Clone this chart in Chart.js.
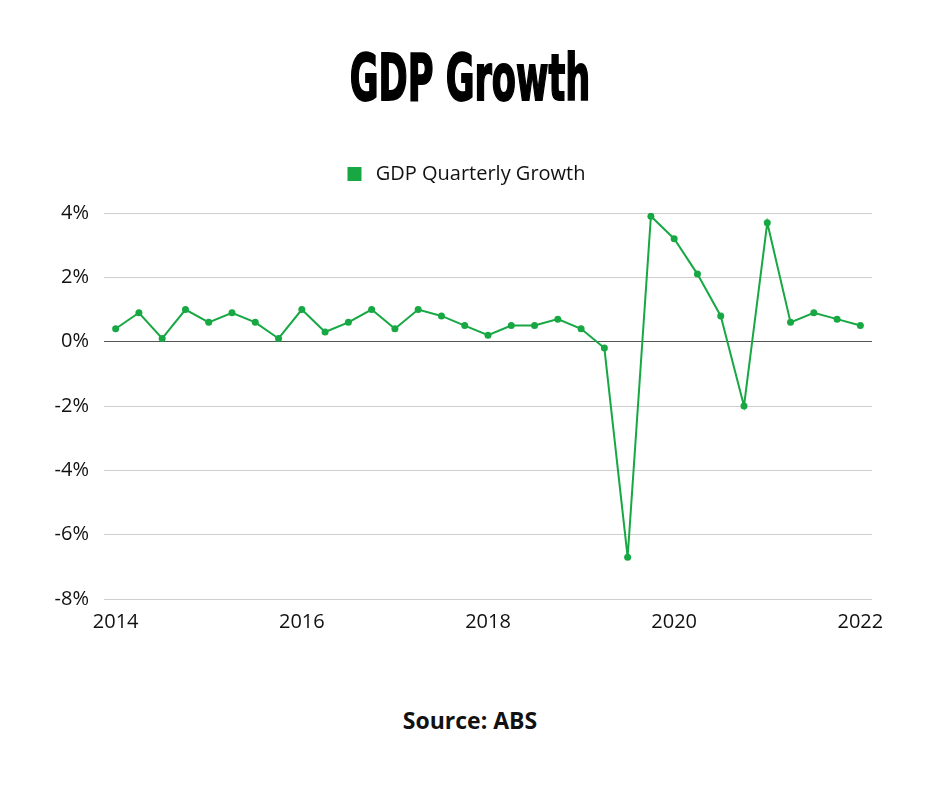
<!DOCTYPE html>
<html>
<head>
<meta charset="utf-8">
<script src="https://cdn.jsdelivr.net/npm/chart.js@4.4.1/dist/chart.umd.min.js"></script>
<style>
  html, body { margin: 0; padding: 0; background: #fff; }
  body { width: 940px; height: 788px; position: relative; overflow: hidden; font-family: "Open Sans", sans-serif; }
  #titulo {
    position: absolute; left: 0; top: 38px; width: 940px; text-align: center;
    font-family: "DejaVu Sans Condensed", "Liberation Sans Narrow", sans-serif;
    font-weight: bold; font-size: 64px; line-height: 80px; color: #000;
    -webkit-text-stroke: 1.8px #000;
    transform: scaleX(0.61); transform-origin: 470px 0;
  }
  #grafico { position: absolute; left: 0; top: 150px; width: 900px; height: 487px; }
  #fuente {
    position: absolute; left: 0; top: 704px; width: 940px; text-align: center;
    font-family: "Open Sans", sans-serif; font-weight: bold; font-size: 23px; color: #111;
  }
</style>
</head>
<body>
<div id="titulo">GDP Growth</div>
<div id="grafico"><canvas id="grafPIB"></canvas></div>
<div id="fuente">Source: ABS</div>
<script>
// Trimestres de 2014 a 2022 (primer trimestre de cada año marcado en el eje)
const trimestres = [
  '2014 Q1', '2014 Q2', '2014 Q3', '2014 Q4',
  '2015 Q1', '2015 Q2', '2015 Q3', '2015 Q4',
  '2016 Q1', '2016 Q2', '2016 Q3', '2016 Q4',
  '2017 Q1', '2017 Q2', '2017 Q3', '2017 Q4',
  '2018 Q1', '2018 Q2', '2018 Q3', '2018 Q4',
  '2019 Q1', '2019 Q2', '2019 Q3', '2019 Q4',
  '2020 Q1', '2020 Q2', '2020 Q3', '2020 Q4',
  '2021 Q1', '2021 Q2', '2021 Q3', '2021 Q4',
  '2022 Q1'
];
const crecimientoPIB = [
  0.4, 0.9, 0.1, 1.0,
  0.6, 0.9, 0.6, 0.1,
  1.0, 0.3, 0.6, 1.0,
  0.4, 1.0, 0.8, 0.5,
  0.2, 0.5, 0.5, 0.7,
  0.4, -0.2, -6.7, 3.9,
  3.2, 2.1, 0.8, -2.0,
  3.7, 0.6, 0.9, 0.7,
  0.5
];
const etiquetasAnio = ['2014', '2016', '2018', '2020', '2022'];
const ticksY = [-8, -6, -4, -2, 0, 2, 4];

const verde = '#17a844';
const fuenteEjes = { family: 'Open Sans', size: 20 };

// Leyenda centrada en la página y con más aire debajo
const ajusteLeyenda = {
  id: 'ajusteLeyenda',
  beforeUpdate(chart) {
    const leyenda = chart.legend;
    if (leyenda && !leyenda._ajustada) {
      const fitOrig = leyenda.fit;
      leyenda.fit = function () { fitOrig.call(this); this.height += 19; };
      leyenda._ajustada = true;
    }
  },
  afterLayout(chart) {
    chart.legend.left += 31;
    chart.legend.right += 31;
  }
};

new Chart(document.getElementById('grafPIB'), {
  type: 'line',
  data: {
    labels: trimestres,
    datasets: [{
      label: 'GDP Quarterly Growth',
      data: crecimientoPIB,
      borderColor: verde,
      backgroundColor: verde,
      borderWidth: 2,
      pointRadius: 3.5,
      pointBackgroundColor: verde,
      pointBorderWidth: 0,
      tension: 0
    }]
  },
  plugins: [ajusteLeyenda],
  options: {
    responsive: true,
    maintainAspectRatio: false,
    animation: false,
    layout: { padding: { top: 0, right: 28, bottom: 0, left: 0 } },
    plugins: {
      legend: {
        display: true,
        labels: {
          color: '#111',
          font: fuenteEjes,
          boxWidth: 12, boxHeight: 12, padding: 14,
          generateLabels: function (chart) {
            return Chart.defaults.plugins.legend.labels.generateLabels(chart)
              .map(item => ({ ...item, text: ' ' + item.text }));
          }
        }
      },
      tooltip: { enabled: false }
    },
    scales: {
      x: {
        type: 'category',
        offset: true,
        grid: { display: false },
        border: { display: false },
        ticks: {
          autoSkip: false, maxRotation: 0, padding: 3,
          color: '#111',
          font: fuenteEjes,
          callback: function (val, i) {
            const anio = trimestres[i].slice(0, 4);
            return (trimestres[i].endsWith('Q1') && etiquetasAnio.includes(anio)) ? anio : '';
          }
        }
      },
      y: {
        min: -8, max: 4,
        afterFit: function (scale) { scale.width = 104; },
        afterBuildTicks: function (scale) { scale.ticks = ticksY.map(v => ({ value: v })); },
        grid: {
          drawTicks: false,
          color: ctx => ctx.tick && ctx.tick.value === 0 ? '#555' : '#cfcfcf',
          lineWidth: 1
        },
        border: { display: false },
        ticks: {
          padding: 15,
          color: '#111',
          font: fuenteEjes,
          callback: v => v + '%'
        }
      }
    }
  }
});
</script>
</body>
</html>
